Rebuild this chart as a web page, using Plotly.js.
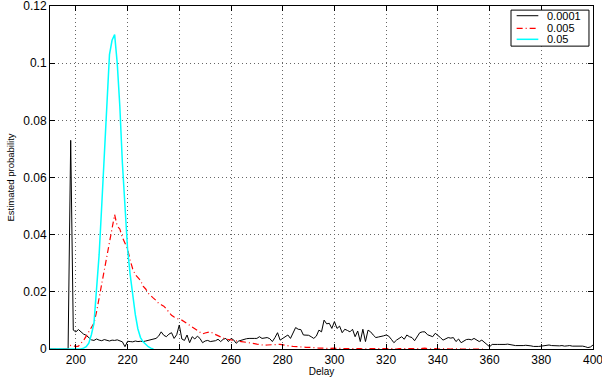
<!DOCTYPE html>
<html>
<head>
<meta charset="utf-8">
<script src="https://cdn.plot.ly/plotly-3.0.1.min.js"></script>
<style>html,body{margin:0;padding:0;background:#fff;} #chart{width:602px;height:377px;}</style>
</head>
<body>
<div id="chart"></div>
<script>
// Delay axis start values for each series (one value per integer delay)
const blackStart = 190;
const black = [
0,0,0,0,0,0,0,0,
0.073,0.0066,0.006,0.0068,0.006,0.0052,0.0048,0.004,0.0032,0.003,
0.0035,0.0031,0.0029,0.0033,0.003,0.0028,0.0031,0.003,0.0032,0.0029,
0.0025,0.0008,0.0027,0.0026,0.0025,0.0028,0.0026,0.0027,0.0026,0.0028,
0.003,0.0031,0.0034,0.0037,0.0045,0.006,0.0048,0.0043,0.0052,0.0057,
0.0037,0.005,0.0084,0.0035,0.003,0.0049,0.0022,0.0043,0.0035,0.0045,
0.0037,0.0022,0.0028,0.003,0.0026,0.0027,0.0029,0.0034,0.0026,0.0034,
0.0037,0.0026,0.0037,0.0032,0.002,0.0028,0.0031,0.0035,0.0036,0.0037,
0.0036,0.0037,0.0037,0.0043,0.0037,0.0038,0.004,0.0036,0.0026,0.004,
0.0057,0.0031,0.0038,0.0043,0.0049,0.0037,0.0055,0.0075,0.0069,0.0068,
0.0049,0.0048,0.0048,0.0043,0.0037,0.0045,0.0066,0.006,0.0101,0.0088,
0.009,0.0072,0.0096,0.0072,0.008,0.0057,0.0069,0.0065,0.006,0.0069,
0.0043,0.0063,0.0026,0.0069,0.0026,0.0066,0.006,0.0049,0.004,0.0042,
0.0043,0.0046,0.0049,0.0045,0.0034,0.0022,0.0031,0.0038,0.0043,0.0034,
0.0049,0.0043,0.004,0.0029,0.0045,0.0057,0.006,0.006,0.005,0.0046,
0.0043,0.0055,0.0049,0.004,0.0031,0.0036,0.004,0.0038,0.004,0.0026,
0.0035,0.0022,0.0028,0.0033,0.0034,0.0032,0.0037,0.0031,0.0026,0.0031,
0.0024,0.0018,0.0008,0.0016,0.0015,0.0016,0.0016,0.0015,0.0016,0.0017,
0.0015,0.0013,0.0012,0.0012,0.0011,0.0012,0.0013,0.0013,0.0011,0.0009,
0.0008,0.0009,0.001,0.0011,0.0012,0.0014,0.0012,0.0011,0.0012,0.0011,
0.0012,0.001,0.0011,0.0012,0.001,0.001,0.0009,0.0011,0.001,0.0008,
0.0005,0.0007,0.0014
];

const redStart = 190;
const red = [
0,0,0,0,0,0,0,0,
0.0013,0.0012,0.0008,0.001,0.002,0.003,0.0045,0.006,0.0075,0.009,
0.013,0.018,0.023,0.028,0.032,0.037,0.042,0.047,0.043,0.042,
0.039,0.037,0.035,0.031,0.028,0.026,0.025,0.024,0.022,0.021,
0.0195,0.0185,0.0178,0.017,0.016,0.0155,0.015,0.014,0.0128,0.0118,
0.0112,0.0106,0.0103,0.0101,0.0095,0.0088,0.0082,0.0078,0.0072,0.0065,
0.006,0.0053,0.0056,0.0058,0.006,0.0055,0.005,0.0045,0.0042,0.0038,
0.0035,0.0033,0.0032,0.003,0.0028,0.0027,0.0026,0.0025,0.0024,0.0023,
0.0021,0.0019,0.0017,0.0015,0.0014,0.0013,0.0014,0.0015,0.0016,0.0016,
0.0016,0.0016,0.0014,0.0012,0.0011,0.001,0.0009,0.0008,0.0007,0.0007,
0.0007,0.0006,0.0006,0.0006,0.0005,0.0004,0.0003,0.0004,0.0003,0.0002,
0.0003,0.0004,0.0003,0.0002,0.0002,0.0003,0.0002,0.0001,0.0002,0.0002,
0.0001,0.0002,0.0001,0,0.0001,0.0002,0.0001,0.0001,0,0.0001,
0.0001,0,0.0001,0.0002,0.0001,0,0,0.0001,0.0002,0.0003,
0.0002,0.0001,0,0.0001,0.0001,0,0.0002,0.0003,0.0001,0,
0,0.0001,0,0,0.0001,0,0,0,0.0001,0,
0,0,0,0.0001,0,0,0,0,0,0,
0
];

const cyanStart = 190;
const cyan = [
0,0,0,0,0,0,0,0,0,0,0,0,0,
0.0003,0.0008,0.002,0.005,0.009,0.02,0.033,0.05,0.068,0.088,0.103,0.108,
0.11,0.1,0.085,0.065,0.048,0.035,0.026,0.018,0.012,0.007,0.004,0.0025,
0.0015,0.0008,0.0003,0
];

const seriesNames = ['0.0001', '0.005', '0.05'];
const xTicks = [200, 220, 240, 260, 280, 300, 320, 340, 360, 380, 400];
const yTicks = [0, 0.02, 0.04, 0.06, 0.08, 0.1, 0.12];
const yTickText = ['0', '0.02', '0.04', '0.06', '0.08', '0.1', '0.12'];

const colors = ['#000000', '#ff0000', '#00ffff'];
const dashes = ['solid', '6px,3px,1px,3px', 'solid'];
const widths = [1, 1.2, 1.5];

function xs(start, arr) { return arr.map((_, i) => start + i); }

const seriesData = [[blackStart, black], [redStart, red], [cyanStart, cyan]];
const traces = seriesData.map((s, i) => ({
  x: xs(s[0], s[1]), y: s[1], name: seriesNames[i], type: 'scatter', mode: 'lines',
  line: {color: colors[i], width: widths[i], dash: dashes[i]}
}));

const font = 'Liberation Sans, Arial, sans-serif';

const axisCommon = {
  showline: true, linecolor: '#000', linewidth: 1, mirror: 'ticks',
  ticks: 'inside', ticklen: 5, tickcolor: '#000', tickwidth: 1,
  showgrid: true, gridcolor: '#666', griddash: '1px,3px', gridwidth: 1,
  zeroline: false, ticklabeloverflow: 'allow',
  tickfont: {family: font, size: 12, color: '#000'}
};

// Manual compact legend (MATLAB-style box)
const lgX0 = 0.849, lgX1 = 0.9926, lgY0 = 0.883, lgY1 = 0.988;
const rowY = [0.9717, 0.935, 0.9029];
const shapes = [{type: 'rect', xref: 'paper', yref: 'paper', x0: lgX0, x1: lgX1, y0: lgY0, y1: lgY1,
  line: {color: '#000', width: 1}, fillcolor: '#fff', layer: 'above'}];
const annotations = [];
seriesNames.forEach((n, i) => {
  shapes.push({type: 'line', xref: 'paper', yref: 'paper', x0: 0.8594, x1: 0.8993, y0: rowY[i], y1: rowY[i],
    line: {color: colors[i], width: widths[i], dash: dashes[i]}, layer: 'above'});
  annotations.push({xref: 'paper', yref: 'paper', x: 0.9116, y: rowY[i], xanchor: 'left', yanchor: 'middle',
    text: n, showarrow: false, font: {family: font, size: 11, color: '#000'}});
});

const layout = {
  width: 602, height: 377,
  margin: {l: 50, r: 9, t: 6, b: 28},
  paper_bgcolor: '#fff', plot_bgcolor: '#fff',
  showlegend: false,
  shapes: shapes, annotations: annotations,
  xaxis: Object.assign({}, axisCommon, {
    range: [190, 400], tickvals: xTicks,
    title: {text: 'Delay', font: {family: font, size: 10, color: '#000'}, standoff: 2}
  }),
  yaxis: Object.assign({}, axisCommon, {
    range: [0, 0.12], tickvals: yTicks, ticktext: yTickText,
    title: {text: 'Estimated probability', font: {family: font, size: 9.5, color: '#000'}, standoff: 6}
  })
};

Plotly.newPlot('chart', traces, layout, {displayModeBar: false, staticPlot: true});
</script>
</body>
</html>
